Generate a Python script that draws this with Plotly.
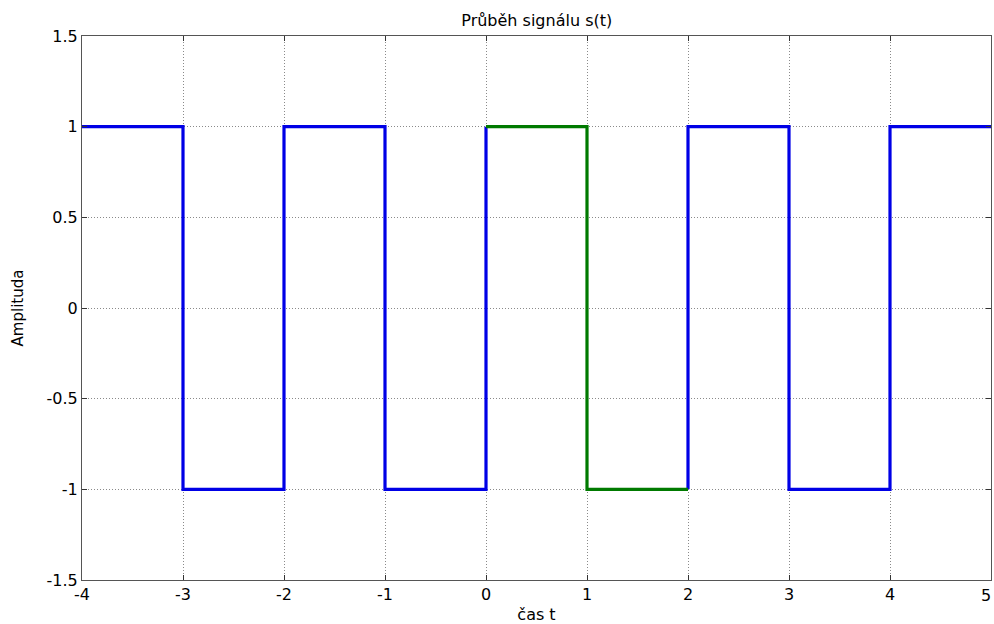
import plotly.graph_objects as go

# Data
blue_t = [-4, -3, -3, -2, -2, -1, -1, 0, 0, None, 2, 2, 3, 3, 4, 4, 5]
blue_s = [1, 1, -1, -1, 1, 1, -1, -1, 1, None, -1, 1, 1, -1, -1, 1, 1]
green_t = [0, 1, 1, 2]
green_s = [1, 1, -1, -1]
x_ticks = [-4, -3, -2, -1, 0, 1, 2, 3, 4, 5]
y_ticks = [-1.5, -1, -0.5, 0, 0.5, 1, 1.5]
y_ticklabels = ["-1.5", "-1", "-0.5", "0", "0.5", "1", "1.5"]

FONT = "DejaVu Sans, Liberation Sans, Arial"

fig = go.Figure()
fig.add_trace(go.Scatter(x=blue_t, y=blue_s, mode="lines",
                         line=dict(color="#0000E6", width=3.2), connectgaps=False,
                         showlegend=False))
fig.add_trace(go.Scatter(x=green_t, y=green_s, mode="lines",
                         line=dict(color="#007A00", width=3.2), showlegend=False))

axis_common = dict(showline=True, linecolor="#555555", linewidth=1.2, mirror="ticks",
                   ticks="inside", ticklen=5, tickcolor="#333333", tickwidth=1,
                   showgrid=True, gridcolor="#8a8a8a", griddash="1px,2px", gridwidth=1,
                   zeroline=False,
                   tickfont=dict(family=FONT, size=16, color="black"))

fig.update_layout(
    width=994, height=624,
    margin=dict(l=82, r=3, t=36, b=44),
    paper_bgcolor="white", plot_bgcolor="white",
    title=dict(text="Průběh signálu s(t)", x=0.54, xanchor="center", y=0.968, yanchor="middle",
               font=dict(family=FONT, size=16, color="black")),
    xaxis=dict(range=[-4, 5], tickvals=x_ticks,
               ticktext=[str(v) for v in x_ticks],
               title=dict(text="čas t", standoff=5,
                          font=dict(family=FONT, size=16, color="black")),
               **axis_common),
    yaxis=dict(range=[-1.5, 1.5], tickvals=y_ticks, ticktext=y_ticklabels,
               title=dict(text="Amplituda", standoff=19,
                          font=dict(family=FONT, size=15, color="black")),
               **axis_common),
)

# last x tick label sits at the very edge of the figure
fig.add_annotation(x=x_ticks[-1], y=0, xref="x", yref="paper", text=str(x_ticks[-1]),
                   showarrow=False, xanchor="right", xshift=2, yanchor="top", yshift=-4,
                   font=dict(family=FONT, size=16, color="black"))

fig.write_html("out.html")
